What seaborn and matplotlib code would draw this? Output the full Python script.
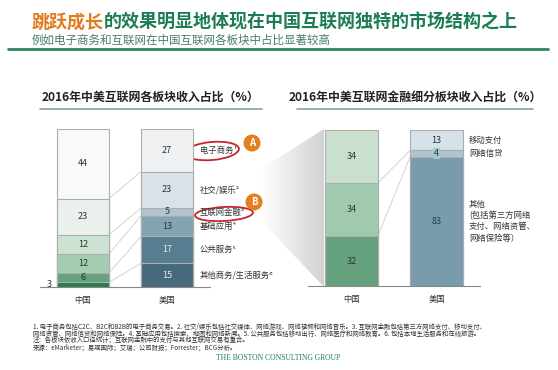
import numpy as np
import pandas as pd
import seaborn as sns
import matplotlib.pyplot as plt
from matplotlib.patches import Ellipse, Circle, Polygon
from matplotlib.colors import LinearSegmentedColormap

sns.set_style("white")
plt.rcParams['font.family'] = ['Noto Sans CJK SC', 'DejaVu Sans']

countries = ['中国', '美国']

# left chart: revenue share by sector, bottom -> top
sector_labels = ['其他商务/生活服务⁶', '公共服务⁵', '基础应用⁴', '互联网金融³', '社交/娱乐²', '电子商务¹']
sector_cn = [3, 6, 12, 12, 23, 44]
sector_us = [15, 17, 13, 5, 23, 27]
sector_cn_colors = ['#1b8a50', '#5aad7a', '#9fd2ae', '#c9e5d0', '#e9f1ec', '#f8f9f9']
sector_us_colors = ['#3d6d84', '#4e8199', '#7ba7ba', '#abc7d1', '#d5e3ea', '#eef0f2']
sector_us_text = ['#e4edf2', '#e4edf2', '#22384a', '#22384a', '#22384a', '#22384a']

# right chart: internet finance sub-sectors, bottom -> top
fin_labels = ['其他\n(包括第三方网络\n支付、网络资管、\n网络保险等）', '网络信贷', '移动支付']
fin_cn = [32, 34, 34]
fin_us = [83, 4, 13]
fin_cn_colors = ['#5aab7b', '#9bcfaa', '#c5e4cc']
fin_us_colors = ['#6f9fb4', '#a8c6d1', '#d3e3ea']
fin_us_text = ['#1f3f5f', '#22384a', '#22384a']

W = 0.62
W_PX, H_PX = 558, 370

fig = plt.figure(figsize=(W_PX / 100, H_PX / 100), dpi=100)

# overlay in pixel coordinates for titles / decorations
ov = fig.add_axes([0, 0, 1, 1], zorder=0)
ov.set_xlim(0, W_PX)
ov.set_ylim(H_PX, 0)
ov.axis('off')


def add_chart(rect, cn, us, cn_cols, us_cols, us_txt, labels, lab_gap):
    ax = fig.add_axes(rect, zorder=1)
    ax.set_facecolor('none')
    rows = []
    cn_cum = np.cumsum(cn)
    us_cum = np.cumsum(us)
    for i in range(len(cn)):
        rows.append({'country': '中国', 'layer': i, 'top': cn_cum[i]})
        rows.append({'country': '美国', 'layer': i, 'top': us_cum[i]})
    df = pd.DataFrame(rows)
    # draw cumulative layers from the top down so lower layers overlay
    for i in reversed(range(len(cn))):
        sub = df[df['layer'] == i]
        sns.barplot(data=sub, x='country', y='top', hue='country',
                    order=countries, hue_order=countries,
                    palette={'中国': cn_cols[i], '美国': us_cols[i]},
                    width=W, edgecolor='#adadad', linewidth=0.8,
                    legend=False, ax=ax)
    # connector lines between segment boundaries
    for i in range(len(cn) - 1):
        ax.plot([W / 2, 1 - W / 2], [cn_cum[i], us_cum[i]],
                color='#cdcdcd', lw=0.6, zorder=0.5)
    # value labels
    for i in range(len(cn)):
        y = cn_cum[i] - cn[i] / 2
        if cn[i] <= 3:
            ax.text(-W / 2 - 0.06, y, str(cn[i]), ha='right', va='center',
                    fontsize=6.5, color='#333333', clip_on=False)
        else:
            ax.text(0, y, str(cn[i]), ha='center', va='center',
                    fontsize=6.5, color='#333333')
        y = us_cum[i] - us[i] / 2
        box = None
        if us[i] <= 4:
            box = dict(boxstyle='square,pad=0.1', fc=us_cols[i], ec='none')
        ax.text(1, y, str(us[i]), ha='center', va='center',
                fontsize=6.5, color=us_txt[i], bbox=box)
        ax.text(1 + W / 2 + lab_gap, y, labels[i], ha='left', va='center',
                fontsize=6, color='#333333', linespacing=1.3, clip_on=False)
    ax.set_xlim(-0.51, 1.51)
    ax.set_ylim(0, 100)
    ax.set_xlabel('')
    ax.set_ylabel('')
    ax.set_yticks([])
    ax.set_xticks([-0.5, 0.5, 1.5])
    ax.set_xticklabels([])
    ax.tick_params(axis='x', length=3, width=0.8, color='#888888', direction='out')
    for s in ['top', 'left', 'right']:
        ax.spines[s].set_visible(False)
    ax.spines['bottom'].set_color('#888888')
    ax.spines['bottom'].set_linewidth(0.8)
    for i, c in enumerate(countries):
        ax.text(i, -0.085, c, transform=ax.get_xaxis_transform(),
                ha='center', va='center', fontsize=6, color='#333333')
    return ax


def rect_px(x0, x1, y_top, y_bot):
    return [x0 / W_PX, 1 - y_bot / H_PX, (x1 - x0) / W_PX, (y_bot - y_top) / H_PX]


# gradient fan linking the finance slice to the right chart
fan = Polygon([(262, 168), (324, 129), (324, 287), (262, 222)], closed=True,
              transform=ov.transData, fc='none', ec='none')
ov.add_patch(fan)
grad = np.tile(np.linspace(0, 1, 200), (10, 1))
cmap = LinearSegmentedColormap.from_list('fan', ['#ffffff', '#d2d2d2'])
im = ov.imshow(grad, extent=[262, 324, 287, 129], cmap=cmap, aspect='auto',
               clip_path=fan, zorder=0)
ov.set_xlim(0, W_PX)
ov.set_ylim(H_PX, 0)

add_chart(rect_px(40, 210, 129, 287), sector_cn, sector_us,
          sector_cn_colors, sector_us_colors, sector_us_text, sector_labels, 0.08)
add_chart(rect_px(308, 480, 130, 286), fin_cn, fin_us,
          fin_cn_colors, fin_us_colors, fin_us_text, fin_labels, 0.07)

# headline
t1 = ov.text(32, 22, '跳跃成长', fontsize=13, fontweight='bold', color='#e07b20',
             ha='left', va='center')
ov.annotate('的效果明显地体现在中国互联网独特的市场结构之上', xy=(1, 0.5), xycoords=t1,
            ha='left', va='center', fontsize=13, fontweight='bold', color='#1c7c54')
ov.text(32, 40, '例如电子商务和互联网在中国互联网各板块中占比显著较高', fontsize=8.3,
        color='#4a7d6d', ha='left', va='center')
ov.plot([8, 548], [49, 49], color='#2a8a5e', lw=2)

# chart titles
ov.text(150, 97, '2016年中美互联网各板块收入占比（%）', fontsize=8.6, fontweight='bold',
        color='#222222', ha='center', va='center')
ov.text(415, 97, '2016年中美互联网金融细分板块收入占比（%）', fontsize=8.6, fontweight='bold',
        color='#222222', ha='center', va='center')
ov.plot([40, 262], [109, 109], color='#7fa59d', lw=1.2)
ov.plot([297, 533], [109, 109], color='#7fa59d', lw=1.2)

# highlight marks
ov.add_patch(Ellipse((212, 151), 54, 18, angle=-5, fc='none', ec='#c4262e', lw=1.3, zorder=3))
ov.add_patch(Ellipse((224, 214), 58, 14, angle=-3, fc='none', ec='#c4262e', lw=1.3, zorder=3))
for (cx, cy), letter in zip([(252, 143), (254, 202)], ['A', 'B']):
    ov.add_patch(Circle((cx, cy), 8.5, fc='#e2801f', ec='none', zorder=4))
    ov.text(cx, cy, letter, fontsize=7, color='white', fontweight='bold',
            ha='center', va='center', zorder=5)

# footnotes
notes = [
    '1. 电子商务包括C2C、B2C和B2B的电子商务交易。2. 社交/娱乐包括社交媒体、网络游戏、网络视频和网络音乐。3. 互联网金融包括第三方网络支付、移动支付、',
    '网络资管、网络信贷和网络保险。4. 基础应用包括搜索、地图和网络新闻。5. 公共服务包括移动出行、网络医疗和网络教育。6. 包括本地生活服务和在线旅游。',
    '注：各板块依收入口径统计；互联网金融中的支付与其他互联网交易有重合。',
    '来源：eMarketer；易观国际；艾瑞；公司财报；Forrester；BCG分析。',
]
for k, line in enumerate(notes):
    ov.text(33, 326.5 + 7.2 * k, line, fontsize=4.6, color='#333333', ha='left', va='center')
ov.text(278, 358, 'THE BOSTON CONSULTING GROUP', fontsize=5.5, family='Liberation Serif',
        color='#1c7c54', ha='center', va='center')

fig.savefig('out.png', dpi=100)
